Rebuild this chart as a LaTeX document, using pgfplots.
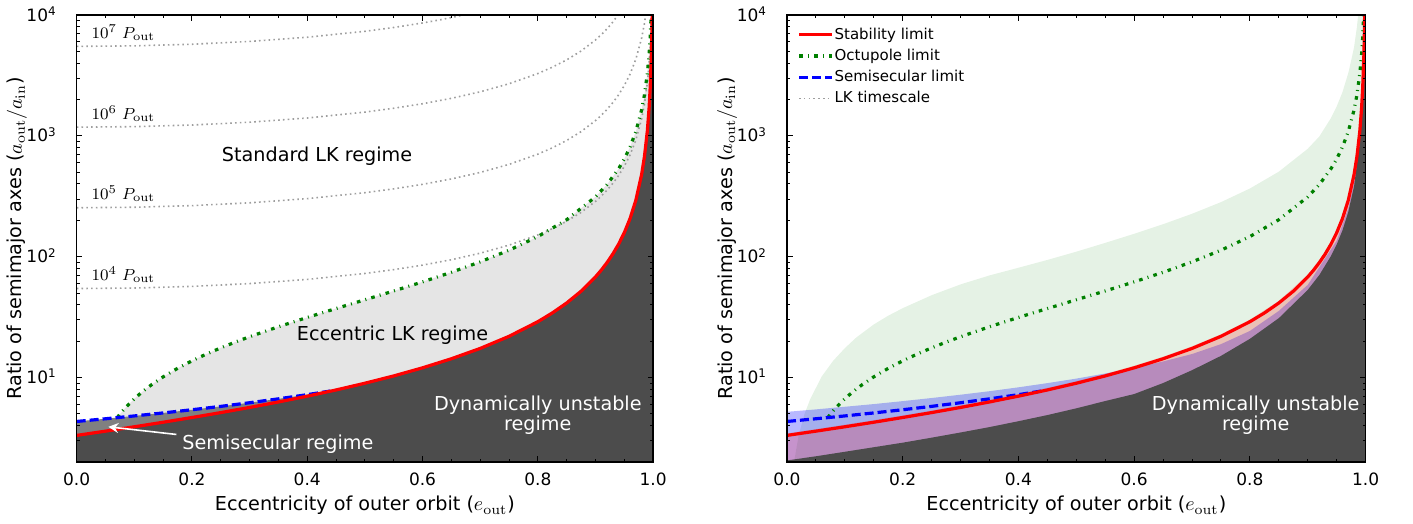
\documentclass[border=0pt]{standalone}
\usepackage[no-math]{fontspec}
\setmainfont{DejaVu Sans}
\usepackage{pgfplots}
\usepackage{pgfplotstable}
\pgfplotsset{compat=1.18}
\usetikzlibrary{arrows.meta}

\definecolor{dkgray}{gray}{0.3}
\definecolor{mdgray}{gray}{0.5}
\definecolor{ltgray}{gray}{0.9}
\definecolor{mplgreen}{rgb}{0,0.5,0}
\definecolor{lkgray}{gray}{0.62}

\pgfplotstableread{
e y
0 3.32
0.05 3.600
0.1 3.913
0.15 4.267
0.2 4.669
0.25 5.127
0.3 5.656
0.35 6.278
0.4 7.012
0.45 7.893
0.5 8.971
0.55 10.31
0.6 12.03
0.65 14.30
0.7 17.41
0.75 21.92
0.8 28.97
0.825 34.2
0.85 41.38
0.875 51.76
0.9 68.02
0.91 77.33
0.92 89.3
0.93 105.0
0.94 126.6
0.95 157.9
0.96 206.8
0.97 292.6
0.98 477.0
0.985 674.6
0.99 1098
0.993 1686
0.995 2526
0.997 4665
0.998 7590
0.999 17430
}\stab

\pgfplotstableread{
e y
0 4.33
0.05 4.558
0.1 4.811
0.15 5.094
0.2 5.413
0.25 5.773
0.3 6.186
0.35 6.662
0.4 7.217
0.44 7.732
}\semi

\pgfplotstableread{
e y
0.0702 4.657
0.08 5.314
0.09 5.989
0.1 6.667
0.11 7.349
0.12 8.036
0.13 8.728
0.15 10.13
0.175 11.915
0.2 13.75
0.225 15.64
0.25 17.6
0.275 19.64
0.3 21.76
0.35 26.32
0.4 31.43
0.45 37.24
0.5 44.0
0.55 52.04
0.6 61.88
0.65 74.29
0.7 90.59
0.75 113.1
0.8 146.7
0.85 202.2
0.9 312.6
0.92 395.3
0.94 533.0
0.95 643.1
0.96 808.2
0.97 1083
0.98 1633
0.985 2183
0.99 3283
0.993 4698
0.995 6583
0.997 10984
}\octu

\pgfplotstableread{
e y
0 54.5
0.1 55.05
0.2 56.77
0.3 59.89
0.4 64.88
0.5 72.67
0.55 78.14
0.6 85.16
0.65 94.37
0.7 106.9
0.75 124.6
0.8 151.4
0.825 170.7
0.85 196.4
0.875 232.5
0.9 286.8
0.91 317.0
0.92 354.8
0.93 403.4
0.94 468.2
0.95 559.0
0.96 695.1
0.97 922.1
0.98 1376
0.985 1830
0.99 2739
0.993 3907
0.995 5464
0.997 9096
0.998 13640
}\lkA
\pgfplotstableread{
e y
0 254
0.1 256.6
0.2 264.6
0.3 279.1
0.4 302.4
0.5 338.7
0.55 364.2
0.6 396.9
0.65 439.8
0.7 498.0
0.75 580.6
0.8 705.6
0.825 795.3
0.85 915.3
0.875 1083.8
0.9 1337
0.91 1477.5
0.92 1654
0.93 1880
0.94 2182
0.95 2605
0.96 3240
0.97 4298
0.98 6414
0.985 8529
0.99 12760
}\lkB
\pgfplotstableread{
e y
0 1180
0.1 1192
0.2 1229
0.3 1297
0.4 1405
0.5 1573
0.55 1692
0.6 1844
0.65 2043
0.7 2314
0.75 2697
0.8 3278
0.825 3695
0.85 4252
0.875 5035
0.9 6211
0.91 6864
0.92 7682
0.93 8734
0.94 10140
}\lkC
\pgfplotstableread{
e y
0 5500
0.1 5556
0.2 5729
0.3 6044
0.4 6548
0.5 7333
0.55 7885
0.6 8594
0.625 9026
0.65 9524
0.675 10104
}\lkD

\tikzset{
  stabline/.style={red, line width=1.6pt},
  semiline/.style={blue, line width=1.6pt, dash pattern=on 4.5pt off 2pt},
  octline/.style={mplgreen, line width=1.6pt, dash pattern=on 1.8pt off 2.6pt on 0.5pt off 2.6pt},
  lkline/.style={lkgray, line width=0.8pt, dash pattern=on 0.8pt off 1.6pt},
  regtext/.style={font=\fontsize{9.6}{9.2}\selectfont},
}

\begin{document}
\begin{tikzpicture}[font=\fontsize{8.5}{10}\selectfont]
\pgfplotsset{
  every axis/.append style={
    scale only axis, height=223.5pt,
    xmin=0, xmax=1, ymin=2, ymax=10000,
    axis on top, clip=true,
    xtick={0,0.2,0.4,0.6,0.8,1}, xticklabels={0.0,0.2,0.4,0.6,0.8,1.0},
    minor xtick={0.05,0.1,0.15,0.25,0.3,0.35,0.45,0.5,0.55,0.65,0.7,0.75,0.85,0.9,0.95},
    ytick={10,100,1000,10000},
    yticklabels={10\textsuperscript{1},10\textsuperscript{2},10\textsuperscript{3},10\textsuperscript{4}},
    minor ytick={2,3,4,5,6,7,8,9,20,30,40,50,60,70,80,90,200,300,400,500,600,700,800,900,2000,3000,4000,5000,6000,7000,8000,9000},
    tick align=inside, xtick pos=both, ytick pos=both,
    xticklabel pos=lower, yticklabel pos=left,
    major tick length=2.8pt, minor tick length=1.5pt,
    every tick/.style={black, line width=0.5pt},
    axis line style={line width=0.75pt},
    tick label style={font=\fontsize{8.5}{10}\selectfont},
    xticklabel style={anchor=base, yshift=-12pt, inner sep=0pt},
    yticklabel style={anchor=base east, xshift=-9.8pt, yshift=-3pt, inner sep=0pt},
    label style={font=\fontsize{9.6}{11}\selectfont},
    xlabel style={at={(axis description cs:0.5,0)}, anchor=base, yshift=-24.5pt},
    ylabel style={at={(axis description cs:-0.1036,0.5)}, anchor=center},
    xlabel={Eccentricity of outer orbit ($e_{\mathrm{out}}$)},
    ylabel={Ratio of semimajor axes ($a_{\mathrm{out}}/a_{\mathrm{in}}$)},
  },
}
% ---------------- Left panel ----------------
\begin{semilogyaxis}[width=288.2pt, at={(0,0)}, anchor=south west]
\addplot[draw=none, fill=ltgray, forget plot] coordinates {
(0.0702,1) (0.0702,4.657) (0.08,5.314) (0.09,5.989) (0.1,6.667) (0.11,7.349) (0.12,8.036) (0.13,8.728) (0.15,10.13) (0.175,11.915) (0.2,13.75) (0.225,15.64) (0.25,17.6) (0.275,19.64) (0.3,21.76) (0.35,26.32) (0.4,31.43) (0.45,37.24) (0.5,44.0) (0.55,52.04) (0.6,61.88) (0.65,74.29) (0.7,90.59) (0.75,113.1) (0.8,146.7) (0.85,202.2) (0.9,312.6) (0.92,395.3) (0.94,533.0) (0.95,643.1) (0.96,808.2) (0.97,1083) (0.98,1633) (0.985,2183) (0.99,3283) (0.993,4698) (0.995,6583) (0.997,10984) (1,10984) (1,1)} -- cycle;
\addplot[draw=none, fill=mdgray, forget plot] coordinates {
(0,1) (0,4.33) (0.05,4.558) (0.1,4.811) (0.15,5.094) (0.2,5.413) (0.25,5.773) (0.3,6.186) (0.35,6.662) (0.4,7.217) (0.44,7.732) (0.44,1)} -- cycle;
\addplot[draw=none, fill=dkgray, forget plot] coordinates {
(0,1) (0,3.32) (0.05,3.600) (0.1,3.913) (0.15,4.267) (0.2,4.669) (0.25,5.127) (0.3,5.656) (0.35,6.278) (0.4,7.012) (0.45,7.893) (0.5,8.971) (0.55,10.31) (0.6,12.03) (0.65,14.30) (0.7,17.41) (0.75,21.92) (0.8,28.97) (0.825,34.2) (0.85,41.38) (0.875,51.76) (0.9,68.02) (0.91,77.33) (0.92,89.3) (0.93,105.0) (0.94,126.6) (0.95,157.9) (0.96,206.8) (0.97,292.6) (0.98,477.0) (0.985,674.6) (0.99,1098) (0.993,1686) (0.995,2526) (0.997,4665) (0.998,7590) (0.999,17430) (1,17430) (1,1)} -- cycle;
\addplot[lkline, forget plot] table {\lkA};
\addplot[lkline, forget plot] table {\lkB};
\addplot[lkline, forget plot] table {\lkC};
\addplot[lkline, forget plot] table {\lkD};
\addplot[octline, forget plot] table {\octu};
\addplot[semiline, forget plot] table {\semi};
\addplot[stabline, forget plot] table {\stab};
\node[anchor=west, inner sep=0pt] at (axis cs:0.025,71) {$10^4\ P_{\mathrm{out}}$};
\node[anchor=west, inner sep=0pt] at (axis cs:0.025,331) {$10^5\ P_{\mathrm{out}}$};
\node[anchor=west, inner sep=0pt] at (axis cs:0.025,1535) {$10^6\ P_{\mathrm{out}}$};
\node[anchor=west, inner sep=0pt] at (axis cs:0.025,7150) {$10^7\ P_{\mathrm{out}}$};
\node[regtext] at (axis cs:0.417,674) {Standard LK regime};
\node[regtext] at (axis cs:0.548,22.6) {Eccentric LK regime};
\node[regtext, white, align=center] at (axis cs:0.80,4.86) {Dynamically unstable\\regime};
\node[regtext, white] at (axis cs:0.349,2.80) {Semisecular regime};
\draw[white, line width=0.8pt, -{Stealth[length=5pt,width=5pt]}] (axis cs:0.173,3.38) -- (axis cs:0.055,3.91);
\end{semilogyaxis}

% ---------------- Right panel ----------------
\begin{semilogyaxis}[width=289.3pt, at={(355.15pt,0)}, anchor=south west,
  legend style={at={(axis description cs:0,1)}, anchor=north west, xshift=5pt, yshift=-5.5pt,
    draw=none, fill=none, font=\fontsize{7.5}{8.5}\selectfont, inner sep=0pt, row sep=2.2pt,
    nodes={inner sep=0.5pt, text height=5.8pt, text depth=1.6pt}},
  legend cell align=left,
  legend image code/.code={\draw[#1] (0pt,0pt) -- (16.5pt,0pt);}]
\addplot[draw=none, fill=mplgreen, fill opacity=0.1, forget plot] coordinates {
(0.012,1) (0.012,1.98) (0.02,3.30) (0.03,4.95) (0.04,6.61) (0.06,10.2) (0.08,13.8) (0.1,17.5) (0.12,21.5) (0.15,27.5) (0.175,32.5) (0.2,37.5) (0.25,48) (0.3,59) (0.35,70) (0.4,81) (0.45,94) (0.5,110) (0.55,130.1) (0.6,154.7) (0.65,185.7) (0.7,226.5) (0.75,282.8) (0.8,366.7) (0.85,505.4) (0.9,781.6) (0.92,988) (0.94,1400) (0.95,1750) (0.96,2300) (0.97,3300) (0.975,4200) (0.98,5400) (0.985,8000) (0.988,11000) (1,11000) (1,1)} -- cycle;
\addplot[draw=none, fill=blue, fill opacity=0.28, forget plot] coordinates {
(0,1) (0,5.2) (0.05,5.45) (0.1,5.73) (0.15,6.03) (0.2,6.38) (0.25,6.77) (0.3,7.21) (0.35,7.71) (0.4,8.30) (0.45,8.99) (0.5,9.80) (0.55,10.80) (0.6,12.03) (0.65,13.59) (0.7,15.65) (0.75,18.9) (0.8,24.3) (0.85,35.6) (0.9,58.5) (0.95,135.8) (0.97,251.6) (0.98,410) (0.99,944) (0.995,2172) (0.998,6527) (0.999,14990) (1,14990) (1,1)} -- cycle;
\addplot[draw=none, fill=red, fill opacity=0.2, forget plot] coordinates {
(0,1) (0,3.45) (0.05,3.74) (0.1,4.07) (0.15,4.44) (0.2,4.86) (0.25,5.33) (0.3,5.88) (0.35,6.53) (0.4,7.29) (0.45,8.21) (0.5,9.33) (0.55,10.72) (0.6,12.51) (0.65,14.87) (0.7,18.11) (0.75,22.80) (0.8,30.13) (0.85,43.04) (0.9,70.74) (0.92,92.9) (0.94,131.7) (0.95,164.2) (0.96,215.1) (0.97,304.3) (0.98,496.1) (0.985,701.6) (0.99,1142) (0.993,1753) (0.995,2627) (0.997,4852) (0.998,7894) (0.999,18127) (1,18127) (1,1)} -- cycle;
\addplot[draw=none, fill=dkgray, forget plot] coordinates {
(0,1) (0,2.06) (0.05,2.23) (0.1,2.43) (0.15,2.65) (0.2,2.89) (0.25,3.18) (0.3,3.51) (0.35,3.89) (0.4,4.35) (0.45,4.89) (0.5,5.56) (0.55,6.39) (0.6,7.3) (0.65,9.0) (0.7,11.5) (0.75,15.1) (0.8,20.9) (0.85,31.0) (0.9,53.1) (0.92,70.5) (0.94,101) (0.95,126) (0.96,165) (0.97,234) (0.98,382) (0.99,878) (0.995,2021) (0.998,6072) (0.999,13944) (1,13944) (1,1)} -- cycle;
\addplot[octline, forget plot] table {\octu};
\addplot[semiline, forget plot] table {\semi};
\addplot[stabline, forget plot] table {\stab};
\node[regtext, white, align=center] at (axis cs:0.81,4.86) {Dynamically unstable\\regime};
\addlegendimage{red, line width=1.6pt}
\addlegendentry{Stability limit}
\addlegendimage{mplgreen, line width=1.6pt, dash pattern=on 1.8pt off 2.6pt on 0.5pt off 2.6pt}
\addlegendentry{Octupole limit}
\addlegendimage{blue, line width=1.6pt, dash pattern=on 4.5pt off 2pt}
\addlegendentry{Semisecular limit}
\addlegendimage{lkgray, line width=0.8pt, dash pattern=on 0.8pt off 1.6pt}
\addlegendentry{LK timescale}
\end{semilogyaxis}
\pgfresetboundingbox
\path (-38.35pt,-31pt) rectangle (668.15pt,231pt);
\end{tikzpicture}
\end{document}
